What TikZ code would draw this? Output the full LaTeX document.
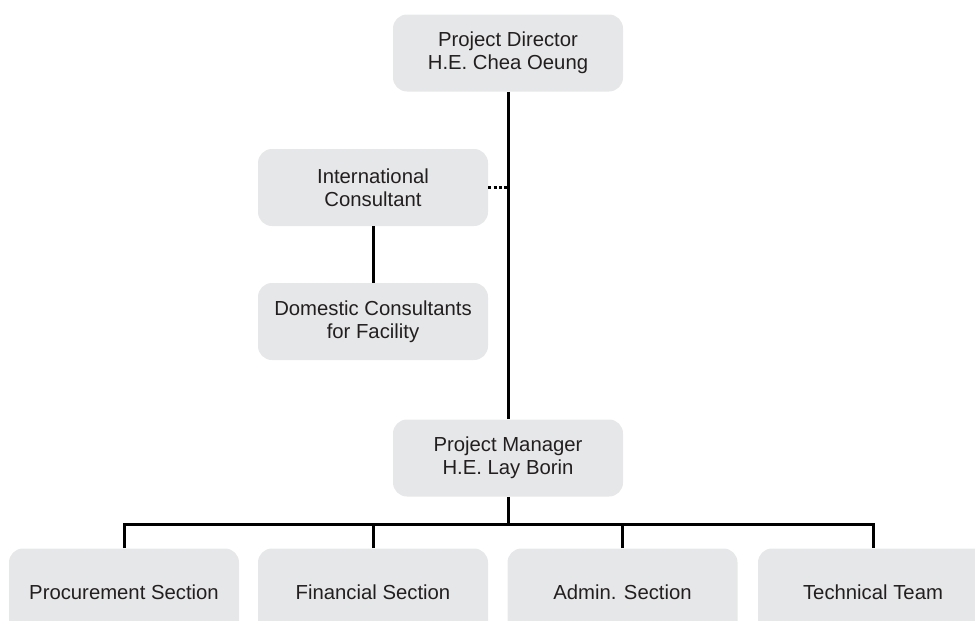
\documentclass[tikz,border=0pt]{standalone}
\usepackage{fontspec}
\setmainfont{Liberation Sans}
\usepackage{tikz}
\usepackage{xcolor}
\definecolor{boxgray}{RGB}{230,231,232}
\definecolor{inkgray}{RGB}{35,31,32}

\begin{document}
\begin{tikzpicture}[x=0.5pt, y=0.5pt,
        box/.style={rectangle, rounded corners=7pt, fill=boxgray, text=inkgray, minimum width=115pt, minimum height=38.5pt, align=center, font=\fontsize{10.15}{11.6}\selectfont},
        unitbox/.style={box, minimum height=44pt},
        link/.style={line width=1.5pt, draw=black},
        advise/.style={line width=1.5pt, draw=black, dash pattern=on 1.5pt off 1.1pt}]
        \useasboundingbox (0, 0) rectangle (975, -621);
        \clip (0, 0) rectangle (975, -621);

        \node[box] (dir) at (508, -53) {Project Director\\H.E. Chea Oeung};
        \node[box] (ic) at (373, -187.5) {International\\Consultant};
        \node[box] (dc) at (373, -321.5) {Domestic Consultants\\for Facility};
        \node[box] (pm) at (508, -458) {Project Manager\\H.E. Lay Borin};

        \node[unitbox] (proc) at (124, -592.5) {Procurement Section};
        \node[unitbox] (fin) at (373, -592.5) {Financial Section};
        \node[unitbox] (adm) at (622.5, -592.5) {Admin. Section};
        \node[unitbox] (tech) at (873, -592.5) {Technical Team};

        \coordinate (bus) at (508, -524);

        \draw[link] (dir) -- (pm)
            (ic) -- (dc)
            (pm) -- (bus);
        \draw[advise] (ic.east) -- (ic.east -| dir.south);
        \draw[link] (proc.north) -- (proc.north |- bus) -- (tech.north |- bus) -- (tech.north)
            (fin.north) -- (fin.north |- bus)
            (adm.north) -- (adm.north |- bus);
\end{tikzpicture}
\end{document}
